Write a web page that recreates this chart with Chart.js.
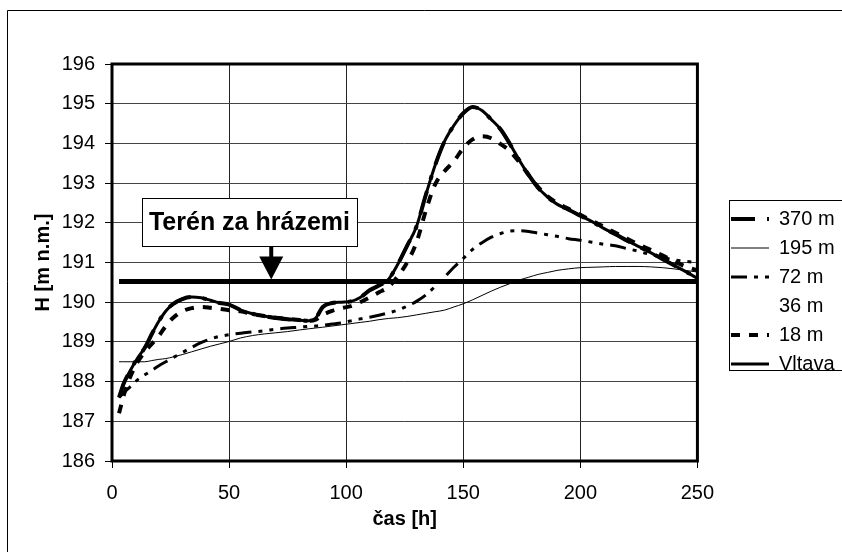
<!DOCTYPE html>
<html>
<head>
<meta charset="utf-8">
<script src="https://cdn.jsdelivr.net/npm/chart.js@4"></script>
<style>
  html, body { margin: 0; padding: 0; background: #fff; }
  canvas { display: block; }
</style>
</head>
<body>
<canvas id="chart" width="842" height="552"></canvas>
<script>
// time axis [h], shared by all curves
const hours = [3, 5, 8, 11, 14, 17, 20, 23, 26, 30, 34, 38, 42, 46, 50, 55, 60, 65, 70, 75, 80, 84, 87, 90, 94, 98,
  102, 106, 110, 114, 118, 122, 126, 130, 134, 138, 142, 146, 150, 154, 158, 162, 166, 170, 174, 178, 182, 186, 190,
  195, 200, 205, 210, 215, 220, 225, 230, 235, 240, 245, 250];

// water levels H [m n.m.]
const h370 = [187.6, 187.95, 188.3, 188.6, 188.85, 189.2, 189.52, 189.78, 189.95, 190.08, 190.13, 190.11, 190.05, 189.98, 189.94,
  189.8, 189.71, 189.65, 189.6, 189.57, 189.55, 189.53, 189.6, 189.88, 189.98, 190.0, 190.02, 190.12, 190.3, 190.42, 190.57,
  190.95, 191.42, 191.9, 192.7, 193.45, 194.05, 194.45, 194.76, 194.92, 194.83, 194.6, 194.35, 193.98, 193.57, 193.2, 192.88,
  192.65, 192.47, 192.33, 192.18, 192.03, 191.86, 191.71, 191.55, 191.4, 191.25, 191.09, 190.93, 190.77, 190.62];
const h195 = [188.5, 188.5, 188.5, 188.5, 188.5, 188.53, 188.56, 188.58, 188.62, 188.68, 188.75, 188.82, 188.89, 188.95, 189.01,
  189.1, 189.16, 189.2, 189.23, 189.26, 189.3, 189.33, 189.35, 189.37, 189.4, 189.43, 189.46, 189.49, 189.52, 189.56, 189.59,
  189.61, 189.64, 189.68, 189.72, 189.76, 189.8, 189.88, 189.96, 190.06, 190.17, 190.28, 190.38, 190.47, 190.56, 190.63, 190.7,
  190.75, 190.8, 190.84, 190.87, 190.88, 190.89, 190.9, 190.9, 190.9, 190.89, 190.87, 190.84, 190.8, 190.76];
const h72 = [187.6, 187.72, 187.88, 188.05, 188.17, 188.28, 188.4, 188.5, 188.6, 188.73, 188.86, 188.98, 189.07, 189.14, 189.18,
  189.22, 189.25, 189.28, 189.32, 189.35, 189.37, 189.39, 189.4, 189.42, 189.45, 189.48, 189.53, 189.58, 189.62, 189.67, 189.73,
  189.8, 189.9, 190.02, 190.18, 190.4, 190.63, 190.88, 191.1, 191.33, 191.5, 191.64, 191.73, 191.79, 191.8, 191.78, 191.74,
  191.7, 191.66, 191.6, 191.56, 191.51, 191.46, 191.42, 191.35, 191.28, 191.2, 191.13, 191.07, 191.03, 191.0];
const h36 = [];
const h18 = [187.2, 187.65, 188.15, 188.5, 188.75, 188.95, 189.15, 189.4, 189.6, 189.77, 189.85, 189.88, 189.86, 189.83, 189.8,
  189.77, 189.7, 189.65, 189.61, 189.58, 189.55, 189.53, 189.56, 189.68, 189.78, 189.85, 189.9, 190.0, 190.12, 190.25, 190.38,
  190.65, 191.0, 191.5, 192.3, 192.97, 193.3, 193.55, 193.88, 194.1, 194.18, 194.13, 193.98, 193.8, 193.52, 193.2, 192.9,
  192.67, 192.5, 192.35, 192.2, 192.05, 191.9, 191.75, 191.6, 191.45, 191.32, 191.18, 191.03, 190.9, 190.8];
const vltava = [187.6, 187.95, 188.3, 188.6, 188.85, 189.2, 189.52, 189.78, 189.95, 190.08, 190.13, 190.11, 190.05, 189.98, 189.94,
  189.8, 189.71, 189.65, 189.6, 189.57, 189.55, 189.53, 189.6, 189.88, 189.98, 190.0, 190.02, 190.12, 190.3, 190.42, 190.57,
  190.95, 191.42, 191.9, 192.7, 193.45, 194.05, 194.45, 194.76, 194.92, 194.83, 194.6, 194.35, 193.98, 193.57, 193.2, 192.88,
  192.65, 192.47, 192.33, 192.18, 192.03, 191.86, 191.71, 191.55, 191.4, 191.25, 191.09, 190.93, 190.77, 190.6];

// ground level behind the levees
const terrainHours = [3, 250];
const terrainLevel = [190.52, 190.52];

const seriesNames = ['370 m', '195 m', '72 m', '36 m', '18 m', 'Vltava'];

// callout "Terén za hrázemi" (in data units)
const callout = { text: 'Terén za hrázemi', centerHour: 58.7, topLevel: 192.62, bottomLevel: 191.4, arrowHour: 68 };

function pts(xs, ys) {
  return ys.map((y, i) => ({ x: xs[i], y: y }));
}

const FONT = '"Liberation Sans", Arial, sans-serif';
Chart.defaults.font.family = FONT;
Chart.defaults.color = '#000';

const decorations = {
  id: 'decorations',
  beforeDraw(chart) {
    const ctx = chart.ctx;
    ctx.save();
    ctx.fillStyle = '#fff';
    ctx.fillRect(0, 0, chart.width, chart.height);
    // outer frame (only left and top edges are in view)
    ctx.strokeStyle = '#000';
    ctx.lineWidth = 1;
    ctx.beginPath();
    ctx.moveTo(7.5, chart.height);
    ctx.lineTo(7.5, 10.5);
    ctx.lineTo(chart.width, 10.5);
    ctx.stroke();
    ctx.restore();
  },
  afterLayout(chart) {
    // move legend to where the excel one sits
    const lg = chart.legend;
    const w = lg.right - lg.left, h = lg.bottom - lg.top;
    lg.left = 722; lg.right = lg.left + w;
    lg.top = 200; lg.bottom = lg.top + h;
  },
  beforeDatasetsDraw(chart) {
    const {ctx, chartArea: a} = chart;
    ctx.save();
    ctx.strokeStyle = '#000';
    ctx.lineWidth = 3;
    ctx.strokeRect(a.left, a.top, a.right - a.left, a.bottom - a.top);
    ctx.restore();
  },
  afterDatasetsDraw(chart) {
    const ctx = chart.ctx;
    const xs = chart.scales.x, ys = chart.scales.y;
    ctx.save();
    // callout box
    ctx.font = 'bold 25px ' + FONT;
    const tw = ctx.measureText(callout.text).width;
    const cx = xs.getPixelForValue(callout.centerHour);
    const top = ys.getPixelForValue(callout.topLevel);
    const bottom = ys.getPixelForValue(callout.bottomLevel);
    const bw = tw + 14;
    ctx.fillStyle = '#fff';
    ctx.fillRect(cx - bw / 2, top, bw, bottom - top);
    ctx.strokeStyle = '#000';
    ctx.lineWidth = 1;
    ctx.strokeRect(Math.round(cx - bw / 2) + 0.5, Math.round(top) + 0.5, Math.round(bw), Math.round(bottom - top));
    ctx.fillStyle = '#000';
    ctx.textAlign = 'center';
    ctx.textBaseline = 'middle';
    ctx.fillText(callout.text, cx, (top + bottom) / 2 + 1);
    // arrow down to the terrain line
    const ax = xs.getPixelForValue(callout.arrowHour);
    const tip = ys.getPixelForValue(terrainLevel[0]) - 2;
    const headTop = tip - 23;
    ctx.fillRect(ax - 2, bottom, 4, headTop - bottom + 1);
    ctx.beginPath();
    ctx.moveTo(ax - 12, headTop);
    ctx.lineTo(ax + 12, headTop);
    ctx.lineTo(ax, tip);
    ctx.closePath();
    ctx.fill();
    ctx.restore();
  },
  afterDraw(chart) {
    const ctx = chart.ctx;
    const lg = chart.legend;
    ctx.save();
    // legend frame
    ctx.strokeStyle = '#000';
    ctx.lineWidth = 1;
    ctx.strokeRect(lg.left + 7.5, lg.top + 0.5, 200, 170);
    ctx.restore();
  }
};

function line(label, data, width, dash, order) {
  return {
    label: label,
    data: pts(hours, data),
    borderColor: data.length ? '#000' : 'rgba(0,0,0,0)',
    borderWidth: width,
    borderDash: dash,
    pointRadius: 0,
    pointHoverRadius: 0,
    cubicInterpolationMode: 'monotone',
    order: order
  };
}

new Chart(document.getElementById('chart'), {
  type: 'line',
  data: {
    datasets: [
      line(seriesNames[0], h370, 4, [24, 12, 4, 12], 6),
      line(seriesNames[1], h195, 1, [], 5),
      line(seriesNames[2], h72, 3, [16, 7, 4, 7, 4, 7], 4),
      line(seriesNames[3], h36, 1, [], 3),
      line(seriesNames[4], h18, 4, [9, 9], 2),
      line(seriesNames[5], vltava, 3, [], 1),
      {
        label: 'terén',
        data: pts(terrainHours, terrainLevel),
        borderColor: '#000',
        borderWidth: 5,
        pointRadius: 0,
        order: 7
      }
    ]
  },
  options: {
    responsive: false,
    animation: false,
    events: [],
    layout: { padding: { top: 64, right: 22, bottom: 0, left: 0 } },
    scales: {
      x: {
        type: 'linear',
        min: 0,
        max: 250,
        afterFit: (s) => { s.height = 91; },
        ticks: { stepSize: 50, font: { size: 20 }, padding: 13, maxRotation: 0 },
        grid: { color: '#222', tickColor: '#000', tickLength: 7 },
        border: { display: false },
        title: { display: true, text: 'čas [h]', font: { size: 20, weight: 'bold' }, padding: { top: 0, bottom: 21 } }
      },
      y: {
        min: 186,
        max: 196,
        afterFit: (s) => { s.width = 112; },
        ticks: { stepSize: 1, font: { size: 20 }, padding: 10 },
        grid: { color: '#444', tickColor: '#000', tickLength: 7 },
        border: { display: false },
        title: { display: true, text: 'H [m n.m.]', font: { size: 20, weight: 'bold' }, padding: { top: 31, bottom: 0 } }
      }
    },
    plugins: {
      legend: {
        position: 'right',
        fullSize: false,
        align: 'start',
        labels: {
          usePointStyle: true,
          pointStyle: 'line',
          pointStyleWidth: 38,
          padding: 9,
          font: { size: 20 },
          color: '#000',
          filter: (item) => item.datasetIndex < seriesNames.length,
          sort: (a, b) => a.datasetIndex - b.datasetIndex,
          generateLabels(chart) {
            // take dash and width from the line itself, not from its points
            const items = Chart.defaults.plugins.legend.labels.generateLabels(chart);
            return items.map((it) => {
              const ds = chart.data.datasets[it.datasetIndex];
              it.lineDash = ds.borderDash || [];
              it.lineWidth = ds.borderWidth;
              it.strokeStyle = ds.borderColor;
              return it;
            });
          }
        }
      },
      tooltip: { enabled: false }
    }
  },
  plugins: [decorations]
});
</script>
</body>
</html>
